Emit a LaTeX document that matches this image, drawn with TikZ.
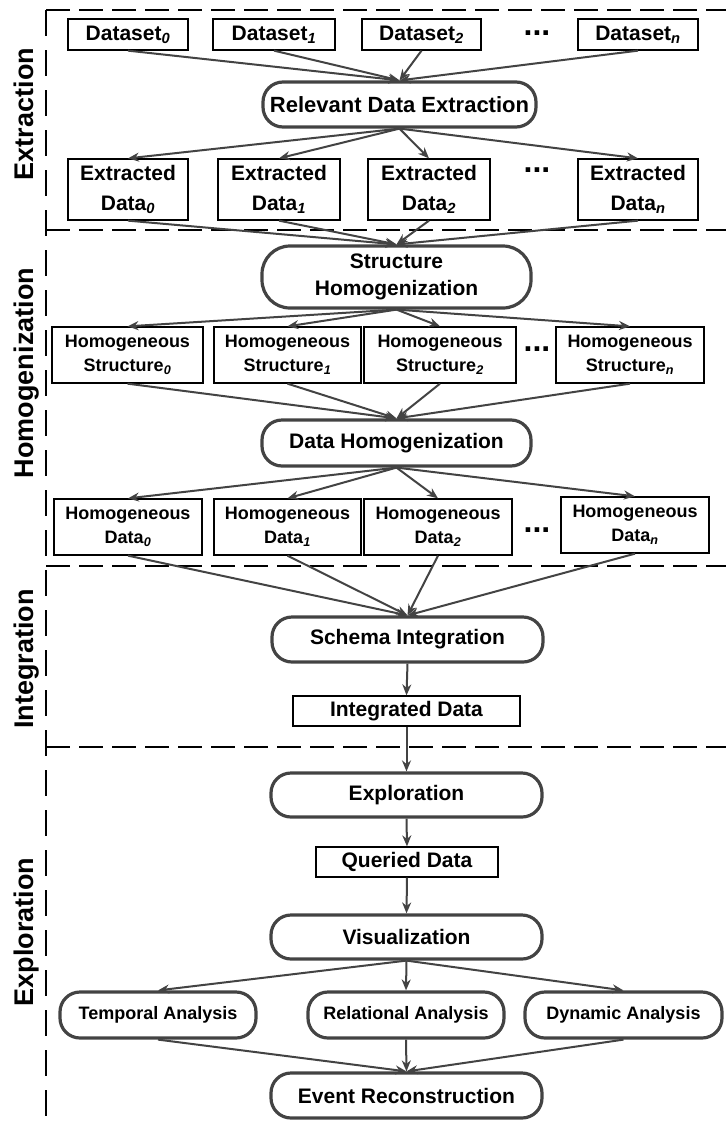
\documentclass[tikz,border=0pt]{standalone}
\usepackage{fontspec}
\setmainfont{Liberation Sans}
\usepackage{xcolor}
\usepackage{tikz}
\usetikzlibrary{arrows.meta,calc}
\definecolor{flowgray}{HTML}{434343}
\newcommand{\ix}[1]{\textsubscript{\itshape #1}}
\tikzset{
		>={Stealth[length=11pt,width=9pt]},
		databox/.style={draw=black,line width=1.3pt,inner sep=0pt,align=center,
			font=\fontsize{21}{30}\selectfont\bfseries},
		smallbox/.style={databox,font=\fontsize{18}{24}\selectfont\bfseries},
		procbox/.style={draw=flowgray,line width=3.2pt,rounded corners=20pt,inner sep=0pt,
			align=center,font=\fontsize{21}{27}\selectfont\bfseries},
		flow/.style={->,draw=flowgray,line width=2pt},
		phase/.style={rotate=90,anchor=base,font=\fontsize{27}{27}\selectfont\bfseries},
		sep/.style={black,line width=1.4pt,dash pattern=on 24pt off 9pt},
		dots/.style={font=\fontsize{32}{32}\selectfont\bfseries}
	}

\begin{document}
\begin{tikzpicture}[x=1pt,y=-1pt]
          \useasboundingbox (0,0) rectangle (726,1125);

          % phase separators
          \draw[sep,dash pattern=on 26pt off 14pt] (46,10) -- (46,1125);
          \draw[sep] (46,10) -- (726,10);
          \draw[sep] (46,230) -- (726,230);
          \draw[sep] (46,566) -- (726,566);
          \draw[sep] (46,747) -- (726,747);

          \node[phase] (phext) at (33,114) {Extraction};
          \node[phase] (phhom) at (33,373) {Homogenization};
          \node[phase] (phint) at (33,659) {Integration};
          \node[phase] (phexp) at (33,932) {Exploration};

          % extraction
          \node[databox,minimum width=120,minimum height=31] (ds0) at (128,34.5) {Dataset\ix{0}};
          \node[databox,minimum width=122,minimum height=31] (ds1) at (274,34.5) {Dataset\ix{1}};
          \node[databox,minimum width=119,minimum height=31] (ds2) at (421.5,34.5) {Dataset\ix{2}};
          \node[dots] (dots1) at (537,33) {...};
          \node[databox,minimum width=120,minimum height=31] (dsn) at (638,34.5) {Dataset\ix{n}};

          \node[procbox,minimum width=273,minimum height=45,font=\fontsize{22}{27}\selectfont\bfseries] (rex) at (399.5,104.5) {Relevant Data Extraction};

          \node[databox,minimum width=120,minimum height=61] (ed0) at (128,189.5) {Extracted\\Data\ix{0}};
          \node[databox,minimum width=122,minimum height=61] (ed1) at (279,189.5) {Extracted\\Data\ix{1}};
          \node[databox,minimum width=122,minimum height=61] (ed2) at (429,189.5) {Extracted\\Data\ix{2}};
          \node[dots] (dots2) at (537,170) {...};
          \node[databox,minimum width=120,minimum height=61] (edn) at (638,189.5) {Extracted\\Data\ix{n}};

          \draw[flow] (ds0.south) -- (rex.north);
          \draw[flow] (ds1.south) -- (rex.north);
          \draw[flow] (ds2.south) -- (rex.north);
          \draw[flow] (dsn.south) -- (rex.north);
          \draw[flow] (rex.south) -- (ed0.north);
          \draw[flow] (rex.south) -- (ed1.north);
          \draw[flow] (rex.south) -- (ed2.north);
          \draw[flow] (rex.south) -- (edn.north);

          % homogenization
          \node[procbox,minimum width=269,minimum height=62,rounded corners=28pt] (sh) at (396.5,277) {Structure\\Homogenization};

          \node[smallbox,minimum width=151,minimum height=56] (hs0) at (127.5,355) {Homogeneous\\Structure\ix{0}};
          \node[smallbox,minimum width=147,minimum height=56] (hs1) at (287.5,355) {Homogeneous\\Structure\ix{1}};
          \node[smallbox,minimum width=152,minimum height=56] (hs2) at (440,355) {Homogeneous\\Structure\ix{2}};
          \node[dots] (dots3) at (537,349) {...};
          \node[smallbox,minimum width=148,minimum height=56] (hsn) at (630,355) {Homogeneous\\Structure\ix{n}};

          \node[procbox,minimum width=269,minimum height=46] (dh) at (396.5,443) {Data Homogenization};

          \node[smallbox,minimum width=148,minimum height=56] (hd0) at (128,527) {Homogeneous\\Data\ix{0}};
          \node[smallbox,minimum width=147,minimum height=56] (hd1) at (287.5,527) {Homogeneous\\Data\ix{1}};
          \node[smallbox,minimum width=148,minimum height=56] (hd2) at (438,527) {Homogeneous\\Data\ix{2}};
          \node[dots] (dots4) at (537,530) {...};
          \node[smallbox,minimum width=148,minimum height=56] (hdn) at (635,525) {Homogeneous\\Data\ix{n}};

          \draw[flow] (ed0.south) -- (sh.north);
          \draw[flow] (ed1.south) -- (sh.north);
          \draw[flow] (ed2.south) -- (sh.north);
          \draw[flow] (edn.south) -- (sh.north);
          \draw[flow] (sh.south) -- (hs0.north);
          \draw[flow] (sh.south) -- (hs1.north);
          \draw[flow] (sh.south) -- (hs2.north);
          \draw[flow] (sh.south) -- (hsn.north);
          \draw[flow] (hs0.south) -- (dh.north);
          \draw[flow] (hs1.south) -- (dh.north);
          \draw[flow] (hs2.south) -- (dh.north);
          \draw[flow] (hsn.south) -- (dh.north);
          \draw[flow] (dh.south) -- (hd0.north);
          \draw[flow] (dh.south) -- (hd1.north);
          \draw[flow] (dh.south) -- (hd2.north);
          \draw[flow] (dh.south) -- (hdn.north);

          % integration
          \node[procbox,minimum width=271,minimum height=45] (si) at (407.5,639.5) {Schema Integration};
          \node[databox,minimum width=227,minimum height=30] (id) at (406.5,711) {Integrated Data};

          \draw[flow] (hd0.south) -- (si.north);
          \draw[flow] (hd1.south) -- (si.north);
          \draw[flow] (hd2.south) -- (si.north);
          \draw[flow] (hdn.south) -- (si.north);
          \draw[flow] (si.south) -- (id.north);

          % exploration
          \node[procbox,minimum width=271,minimum height=44] (exp) at (406.5,795) {Exploration};
          \node[databox,minimum width=182,minimum height=30] (qd) at (407,862) {Queried Data};
          \node[procbox,minimum width=271,minimum height=44] (vis) at (406.5,937) {Visualization};

          \node[procbox,minimum width=196,minimum height=46,font=\fontsize{18}{24}\selectfont\bfseries] (ta) at (158,1015) {Temporal Analysis};
          \node[procbox,minimum width=196,minimum height=46,font=\fontsize{18}{24}\selectfont\bfseries] (ra) at (406,1015) {Relational Analysis};
          \node[procbox,minimum width=197,minimum height=46,font=\fontsize{18}{24}\selectfont\bfseries] (da) at (623.5,1015) {Dynamic Analysis};

          \node[procbox,minimum width=271,minimum height=45] (er) at (406.5,1095.5) {Event Reconstruction};

          \draw[flow] (id.south) -- (exp.north);
          \draw[flow] (exp.south) -- (qd.north);
          \draw[flow] (qd.south) -- (vis.north);
          \draw[flow] (vis.south) -- (ta.north);
          \draw[flow] (vis.south) -- (ra.north);
          \draw[flow] (vis.south) -- (da.north);
          \draw[flow] (ta.south) -- (er.north);
          \draw[flow] (ra.south) -- (er.north);
          \draw[flow] (da.south) -- (er.north);

          \end{tikzpicture}
\end{document}
